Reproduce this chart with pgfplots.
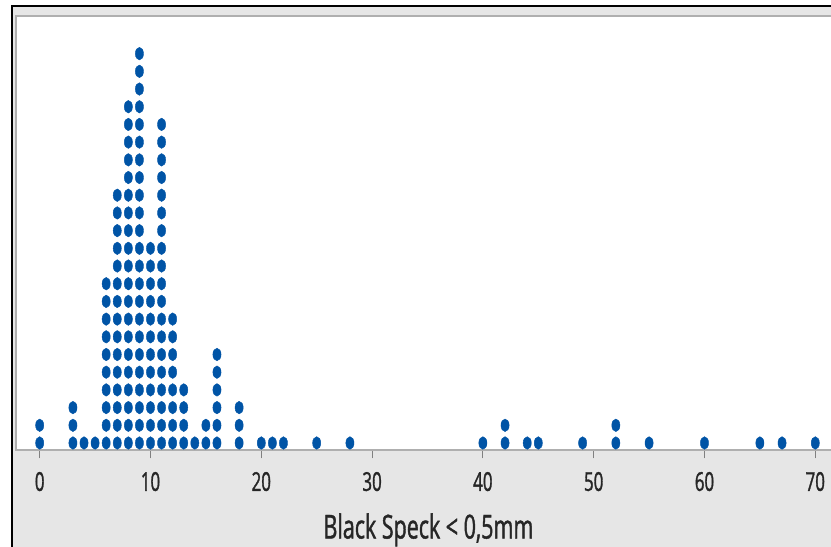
\documentclass[border=0pt]{standalone}
\usepackage{pgfplots}
\pgfplotsset{compat=1.18}
\usepackage{fontspec}
\setmainfont{Open Sans}[FakeStretch=0.65, FakeBold=1.2]
\definecolor{dotblue}{RGB}{0,84,166}
\definecolor{panelgray}{RGB}{230,230,230}
\definecolor{framegray}{RGB}{175,175,175}

\pgfplotstableread{
x y
0 1
0 2
3 1
3 2
3 3
4 1
5 1
6 1
6 2
6 3
6 4
6 5
6 6
6 7
6 8
6 9
6 10
7 1
7 2
7 3
7 4
7 5
7 6
7 7
7 8
7 9
7 10
7 11
7 12
7 13
7 14
7 15
8 1
8 2
8 3
8 4
8 5
8 6
8 7
8 8
8 9
8 10
8 11
8 12
8 13
8 14
8 15
8 16
8 17
8 18
8 19
8 20
9 1
9 2
9 3
9 4
9 5
9 6
9 7
9 8
9 9
9 10
9 11
9 12
9 13
9 14
9 15
9 16
9 17
9 18
9 19
9 20
9 21
9 22
9 23
10 1
10 2
10 3
10 4
10 5
10 6
10 7
10 8
10 9
10 10
10 11
10 12
11 1
11 2
11 3
11 4
11 5
11 6
11 7
11 8
11 9
11 10
11 11
11 12
11 13
11 14
11 15
11 16
11 17
11 18
11 19
12 1
12 2
12 3
12 4
12 5
12 6
12 7
12 8
13 1
13 2
13 3
13 4
14 1
15 1
15 2
16 1
16 2
16 3
16 4
16 5
16 6
18 1
18 2
18 3
20 1
21 1
22 1
25 1
28 1
40 1
42 1
42 2
44 1
45 1
49 1
52 1
52 2
55 1
60 1
65 1
67 1
70 1
}\specks

\begin{document}
\begin{tikzpicture}[x=1bp,y=1bp]
% screenshot frame and panel
\fill[white] (0,0) rectangle (831,547);
\fill[panelgray] (12,0) rectangle (840,541);
\draw[black, line width=1.8bp] (12,-2) -- (12,541) -- (840,541);
\begin{axis}[
  at={(16bp,96.5bp)}, anchor=south west,
  scale only axis,
  width=820bp, height=434bp,
  xmin=-2.139, xmax=71.87,
  ymin=0.576, ymax=25.10,
  axis background/.style={fill=white},
  axis line style={draw=framegray, line width=2bp},
  xtick={0,10,...,70},
  ytick=\empty,
  xtick pos=left,
  tick align=outside,
  major tick length=8bp,
  tick style={draw=gray, line width=1bp},
  /pgf/number format/assume math mode=true,
  xticklabel style={font=\fontsize{26bp}{30bp}\selectfont, text=black!85, yshift=-10bp},
  xlabel={Black Speck < 0,5mm},
  xlabel style={font=\fontsize{33bp}{38bp}\selectfont, text=black!85,
    at={(axis description cs:0.503,-0.2028)}, anchor=base},
]
\addplot[only marks, color=dotblue, mark=*, mark size=6.3bp,
  mark options={xscale=0.65, fill=dotblue, draw=none}] table {\specks};
\end{axis}
\pgfresetboundingbox
\path (0,0) rectangle (831,547);
\end{tikzpicture}
\end{document}
